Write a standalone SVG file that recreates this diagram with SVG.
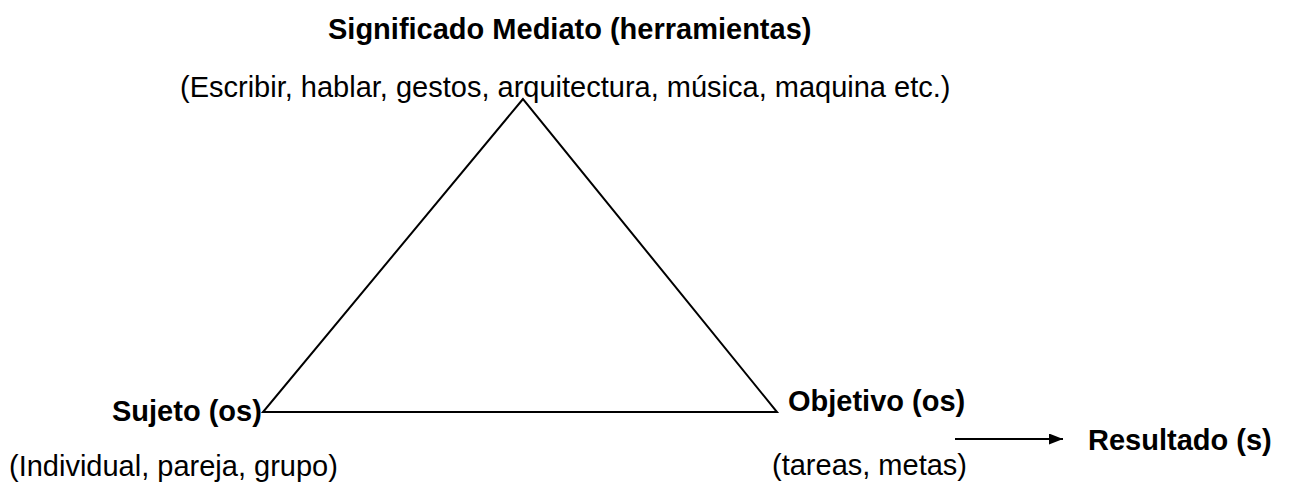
<svg xmlns="http://www.w3.org/2000/svg" width="1292" height="483" viewBox="0 0 1292 483">
<style>
.b{font-family:"Liberation Sans",Arial,sans-serif;font-weight:bold;font-size:29px;fill:#000}
.r{font-family:"Liberation Sans",Arial,sans-serif;font-size:29px;fill:#000}
.ln{stroke:#000;stroke-width:2;fill:none}
</style>
<defs>
<marker id="ah" markerWidth="14" markerHeight="11" refX="14" refY="5.5" orient="auto" markerUnits="userSpaceOnUse">
<path d="M0,0 L14,5.5 L0,11 z" fill="#000"/>
</marker>
</defs>
<rect width="1292" height="483" fill="#fff"/>
<g id="mediato">
<text class="b" x="328" y="39">Significado Mediato (herramientas)</text>
<text class="r" x="180" y="97">(Escribir, hablar, gestos, arquitectura, música, maquina etc.)</text>
</g>
<g id="sujeto">
<text class="b" x="112" y="421">Sujeto (os)</text>
<text class="r" x="9" y="476">(Individual, pareja, grupo)</text>
</g>
<g id="objetivo">
<text class="b" x="788" y="411">Objetivo (os)</text>
<text class="r" x="772" y="475">(tareas, metas)</text>
</g>
<g id="resultado">
<text class="b" x="1088" y="450">Resultado (s)</text>
</g>
<g id="connectors">
<polygon class="ln" points="523,99 263,412 777,412"/>
<line class="ln" x1="955" y1="439" x2="1063" y2="439" stroke-width="1.5" marker-end="url(#ah)"/>
</g>
</svg>
